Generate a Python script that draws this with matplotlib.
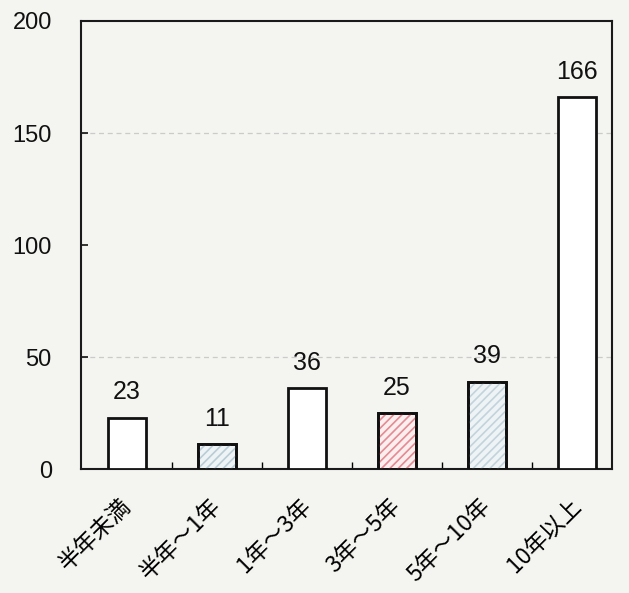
import numpy as np
import matplotlib.pyplot as plt
import matplotlib.ticker as mticker
from matplotlib.transforms import ScaledTranslation

plt.rcParams['font.family'] = ['Liberation Sans', 'Noto Sans CJK JP', 'DejaVu Sans']
plt.rcParams['hatch.linewidth'] = 1.2

categories = ["半年未満", "半年～1年", "1年～3年", "3年～5年", "5年～10年", "10年以上"]
counts = [23, 11, 36, 25, 39, 166]
yticks = [0, 50, 100, 150, 200]

fills = ["white", "#eef3f5", "white", "#fbeeee", "#eef3f5", "white"]
hatch_colors = [None, "#b9ccd6", None, "#e58a92", "#c3d3dc", None]
hatches = [None, "////", None, "////", "////", None]

bg = "#f4f4f0"
fig = plt.figure(figsize=(6.29, 5.93), dpi=100, facecolor=bg)
ax = fig.add_axes([0.1288, 0.209, 0.8442, 0.7556])
ax.set_facecolor(bg)

x = np.arange(len(categories))
for i in range(len(categories)):
    ax.bar(x[i], counts[i], width=0.42, color=fills[i], edgecolor="#111111",
           linewidth=2.0, zorder=3)
    if hatches[i]:
        ax.bar(x[i], counts[i], width=0.42, color="none", edgecolor=hatch_colors[i],
               hatch=hatches[i], linewidth=0, zorder=3.5)
        ax.bar(x[i], counts[i], width=0.42, color="none", edgecolor="#111111",
               linewidth=2.0, zorder=4)
    ax.text(x[i], counts[i] + 6, str(counts[i]), ha="center", va="bottom",
            fontsize=18, color="#111111")

# faint dashed guide lines
for yv in [50, 150]:
    ax.axhline(yv, color="#cbcbcb", linestyle=(0, (4, 3)), linewidth=0.9, zorder=1)

ax.set_xlim(-0.51, 5.39)
ax.set_ylim(0, 200)
ax.set_yticks(yticks)
ax.set_yticklabels([str(v) for v in yticks], fontsize=17)
ax.tick_params(axis="y", direction="in", length=5, width=1.2, pad=21, colors="#111111")

ax.xaxis.set_major_locator(mticker.FixedLocator(x + 0.5))
ax.tick_params(axis="x", which="major", direction="in", length=5, width=1, labelbottom=False)
ax.tick_params(axis="x", which="minor", length=0, pad=18)
ax.set_xticks(x, minor=True)
ax.set_xticklabels(categories, minor=True, rotation=45, ha="right",
                   rotation_mode="anchor", fontsize=16.5,
                   family=['Noto Sans CJK JP', 'DejaVu Sans'])
shift = ScaledTranslation(-8 / 100, 0, fig.dpi_scale_trans)
for lab in ax.get_xticklabels(minor=True):
    lab.set_transform(lab.get_transform() + shift)

for s in ax.spines.values():
    s.set_linewidth(1.5)
    s.set_color("#1a1a1a")

fig.savefig("out.png", dpi=100, facecolor=bg)
